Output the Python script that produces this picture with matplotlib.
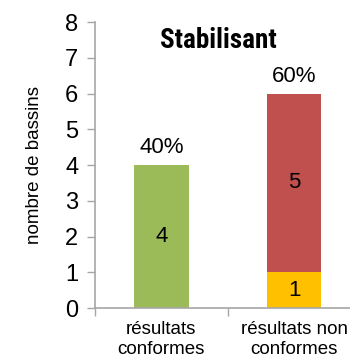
import matplotlib
matplotlib.use("Agg")
import matplotlib.pyplot as plt
from matplotlib import font_manager

categories = ["résultats\nconformes", "résultats non\nconformes"]
conformes = [4, 0]
non_conf_low = [0, 1]
non_conf_high = [0, 5]
pct_labels = ["40%", "60%"]
title = "Stabilisant"
ylabel = "nombre de bassins"

green = "#9BBB59"
red = "#C0504D"
yellow = "#FFC000"
axc = "#A6A6A6"

plt.rcParams['font.family'] = ['Liberation Sans', 'DejaVu Sans']

# pick a condensed bold font if one is installed
title_kw = dict(family='Liberation Sans', fontweight='bold')
cands = []
for f in font_manager.fontManager.ttflist:
    nm = f.name.lower()
    fn = f.fname.lower()
    if ('narrow' in nm or 'condensed' in nm or 'condensed' in fn or 'narrow' in fn) and 'bold' in fn:
        cands.append(f)
if cands:
    pri = ['liberation sans narrow', 'roboto condensed', 'open sans condensed', 'dejavu sans condensed']
    cands.sort(key=lambda f: next((i for i, p in enumerate(pri) if p in f.name.lower() or p.replace(' ', '') in f.fname.lower()), 99))
    title_kw = dict(fontproperties=font_manager.FontProperties(fname=cands[0].fname))

fig = plt.figure(figsize=(3.5, 3.63), dpi=100)
ax = fig.add_axes([0.271, 0.1515, 0.729, 0.7875])

x = [0, 1]
w = 0.41
ax.bar(x[0], conformes[0], width=w, color=green)
ax.bar(x[1], non_conf_low[1], width=w, color=yellow)
ax.bar(x[1], non_conf_high[1], width=w, bottom=non_conf_low[1], color=red)

ax.text(x[0], conformes[0] / 2, str(conformes[0]), ha='center', va='center', fontsize=16)
ax.text(x[1], non_conf_low[1] / 2, str(non_conf_low[1]), ha='center', va='center', fontsize=16)
ax.text(x[1], non_conf_low[1] + non_conf_high[1] / 2, str(non_conf_high[1]), ha='center', va='center', fontsize=16)

tops = [conformes[0], non_conf_low[1] + non_conf_high[1]]
for xi, t, lab in zip(x, tops, pct_labels):
    ax.annotate(lab, (xi, t), xytext=(0, 5), textcoords='offset points',
                ha='center', va='bottom', fontsize=16)

t = ax.text(0.43, 7.5, title, ha='center', va='center', **title_kw)
t.set_fontsize(19.5)
if 'fontproperties' in title_kw:
    t.set_fontweight('bold')

ax.set_yticks(range(0, 9))
ax.tick_params(axis='y', labelsize=17, length=6, color=axc, width=1, pad=6)
ax.set_xticks([-0.5, 0.5, 1.5])
ax.set_xticklabels([])
ax.set_xticks(x, minor=True)
ax.set_xticklabels(categories, minor=True, fontsize=13.5, linespacing=1.3)
ax.tick_params(axis='x', which='minor', length=0, pad=9)
ax.tick_params(axis='x', which='major', length=6, color=axc, width=1, direction='out')
ax.set_ylabel(ylabel, fontsize=13.5, labelpad=16)
ax.set_xlim(-0.5, 1.42)
ax.set_ylim(0, 8)

for s in ['top', 'right']:
    ax.spines[s].set_visible(False)
for s in ['left', 'bottom']:
    ax.spines[s].set_color(axc)
    ax.spines[s].set_linewidth(1.2)
ax.spines['left'].set_bounds(0, 8)

fig.savefig("out.png", dpi=100)
